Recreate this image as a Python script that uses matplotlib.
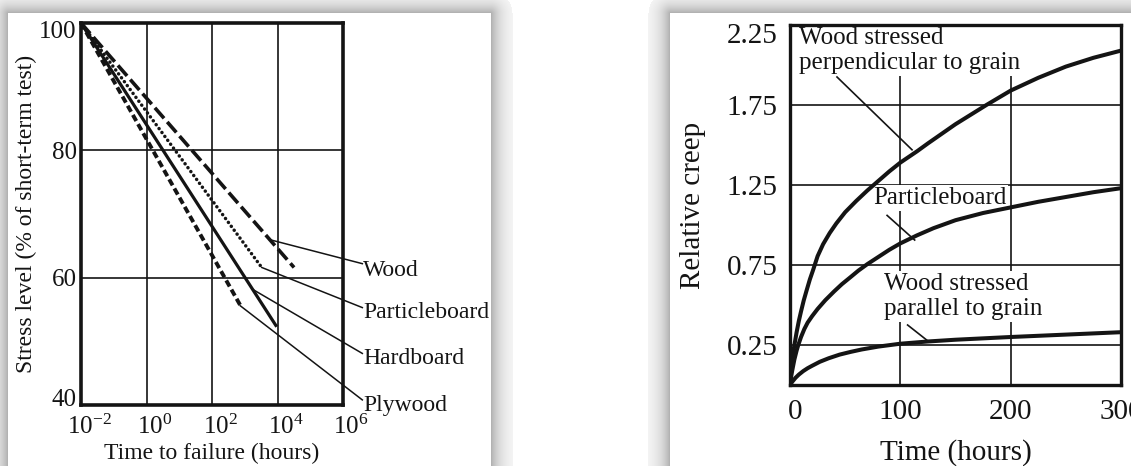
import numpy as np
import matplotlib
matplotlib.use("Agg")
import matplotlib.pyplot as plt
from matplotlib.transforms import ScaledTranslation

plt.rcParams["font.family"] = ["Liberation Serif", "DejaVu Serif"]
plt.rcParams["mathtext.fontset"] = "custom"
plt.rcParams["mathtext.rm"] = "Liberation Serif"
plt.rcParams["mathtext.it"] = "Liberation Serif:italic"
plt.rcParams["lines.scale_dashes"] = False

INK = "#141414"
FS_LEFT = 17
FS_LEFT_TICK = 18
FS_RIGHT = 21
FS_RIGHT_NOTE = 18

# ---- Left panel: stress level vs. time to failure (log time) ----
wood_hours = [1e-2, 3.2e4]
wood_stress = [100, 61.6]
pb_hours = [1e-2, 3.3e3]
pb_stress = [100, 61.6]
hb_hours = [1e-2, 8.9e3]
hb_stress = [100, 52.5]
ply_hours = [1e-2, 7.8e2]
ply_stress = [100, 55.4]

left_names = ["Wood", "Particleboard", "Hardboard", "Plywood"]
# leader line start (on the curve) and end (next to the name)
left_lead_from = [(10**3.74, 66.0), (10**3.52, 61.6), (10**3.23, 58.2), (10**2.86, 55.6)]
left_lead_to_y = [62.2, 55.3, 48.1, 40.8]
left_name_y = [60.2, 53.7, 46.4, 39.1]
left_lead_x = 10**6.59
left_name_x = 10**6.62

left_xticks = [1e-2, 1e0, 1e2, 1e4, 1e6]
left_xticklabels = [r"$\mathregular{10^{-2}}$", r"$\mathregular{10^{0}}$",
                    r"$\mathregular{10^{2}}$", r"$\mathregular{10^{4}}$",
                    r"$\mathregular{10^{6}}$"]
left_yticks = [40, 60, 80, 100]

# ---- Right panel: relative creep vs. time ----
perp_hours = [0, 1, 2, 3, 4, 6, 8, 10, 12.5, 15, 18, 21, 25, 30, 36, 42, 50,
              60, 70, 80, 90, 100, 115, 125, 150, 178, 200, 225, 250, 275, 300]
perp_creep = [0, 0.10, 0.16, 0.21, 0.25, 0.33, 0.40, 0.46, 0.53, 0.59, 0.66,
              0.72, 0.805, 0.88, 0.95, 1.01, 1.08, 1.15, 1.215, 1.275, 1.335,
              1.39, 1.46, 1.51, 1.63, 1.75, 1.84, 1.92, 1.99, 2.045, 2.09]
pbc_hours = [0, 1, 2, 4, 6, 7.5, 10, 13, 16, 20, 25, 32, 40, 47, 55, 62, 70,
             80, 90, 100, 115, 130, 150, 175, 200, 225, 250, 275, 300]
pbc_creep = [0, 0.05, 0.09, 0.16, 0.215, 0.25, 0.30, 0.35, 0.39, 0.43, 0.475,
             0.53, 0.585, 0.63, 0.675, 0.715, 0.755, 0.80, 0.845, 0.885,
             0.935, 0.98, 1.03, 1.075, 1.11, 1.145, 1.175, 1.205, 1.23]
par_hours = [0, 2, 5, 8, 12, 16, 20, 27, 35, 45, 55, 65, 80, 100, 125, 150,
             200, 250, 300]
par_creep = [0, 0.02, 0.045, 0.065, 0.087, 0.105, 0.12, 0.145, 0.167, 0.19,
             0.207, 0.222, 0.24, 0.258, 0.272, 0.283, 0.30, 0.315, 0.33]

right_names = ["Wood stressed\nperpendicular to grain", "Particleboard",
               "Wood stressed\nparallel to grain"]
right_name_pos = [(8.2, 2.235), (75, 1.235), (85, 0.70)]
right_lead = [((42.6, 1.925), (110.6, 1.47)),
              ((88, 1.06), (113, 0.906)),
              ((106.6, 0.375), (125, 0.275))]
right_xticks = [0, 100, 200, 300]
right_yticks = [0.25, 0.75, 1.25, 1.75, 2.25]

W, H = 1131, 466
fig = plt.figure(figsize=(W / 100, H / 100), dpi=100)
fig.patch.set_facecolor("white")

# soft card shadows behind the two panels
yy, xx = np.mgrid[0:H, 0:W].astype(float)


def card_dist(x0, x1, y0):
    dx = np.maximum.reduce([x0 - xx, np.zeros_like(xx), xx - x1])
    dy = np.maximum(y0 - yy, 0)
    return np.hypot(dx, dy)


d = np.minimum(card_dist(8, 490, 13), card_dist(670, 5000, 13))
shade = np.where(d > 0, 1 - 0.30 * np.exp(-(d - 1) / 11.0), 1.0)
shade = np.where(d > 22, 1.0, shade)
bg = np.dstack([shade, shade, shade])
fig.figimage(bg, xo=0, yo=0, origin="upper", zorder=-5)


def nudge(label, dx_px, dy_px):
    label.set_transform(label.get_transform() +
                        ScaledTranslation(dx_px / 100, dy_px / 100,
                                          fig.dpi_scale_trans))


# ---------------- left axes ----------------
ax1 = fig.add_axes([81 / W, 1 - 405 / H, 262 / W, 382 / H])
ax1.set_xscale("log")
ax1.set_xlim(1e-2, 1e6)
ax1.set_ylim(40, 100)
ax1.set_xticks(left_xticks)
ax1.set_xticklabels(left_xticklabels)
ax1.minorticks_off()
ax1.set_yticks(left_yticks)
for v in [1e0, 1e2, 1e4]:
    ax1.axvline(v, color=INK, lw=1.2, zorder=1)
for v in [60, 80]:
    ax1.axhline(v, color=INK, lw=1.2, zorder=1)

ax1.plot(wood_hours, wood_stress, color=INK, lw=2.6, ls=(0, (10, 3.5)),
         dash_capstyle="butt", zorder=3)
ax1.plot(pb_hours, pb_stress, color=INK, lw=2.5, ls=(0, (0.1, 3.4)),
         dash_capstyle="round", zorder=3)
ax1.plot(hb_hours, hb_stress, color=INK, lw=2.3, zorder=3)
ax1.plot(ply_hours, ply_stress, color=INK, lw=2.8, ls=(0, (5, 2.6)),
         dash_capstyle="butt", zorder=3)

for name, p0, ly, ny in zip(left_names, left_lead_from, left_lead_to_y, left_name_y):
    ax1.plot([p0[0], left_lead_x], [p0[1], ly], color=INK, lw=1.1,
             clip_on=False, zorder=3)
    ax1.text(left_name_x, ny, name, fontsize=FS_LEFT, color=INK, ha="left",
             va="baseline", clip_on=False)

ax1.set_xlabel("Time to failure (hours)", fontsize=FS_LEFT, color=INK,
               labelpad=3)
ax1.set_ylabel("Stress level (% of short-term test)", fontsize=FS_LEFT,
               color=INK, labelpad=2)
ax1.tick_params(axis="both", length=0, labelsize=FS_LEFT_TICK, colors=INK)
ax1.tick_params(axis="x", pad=7)
ax1.tick_params(axis="y", pad=3)
for s in ax1.spines.values():
    s.set_linewidth(2.6)
    s.set_color(INK)

for lab in ax1.get_xticklabels():
    nudge(lab, 8, 0)
ylabs = ax1.get_yticklabels()
nudge(ylabs[0], 0, 8)
nudge(ylabs[-1], 0, -6)

# ---------------- right axes ----------------
ax2 = fig.add_axes([790 / W, 1 - 385 / H, 331 / W, 360 / H])
ax2.set_xlim(0, 300)
ax2.set_ylim(0, 2.25)
ax2.set_xticks(right_xticks)
ax2.set_yticks(right_yticks)
ax2.set_yticklabels([f"{v:.2f}" for v in right_yticks])
for v in [100, 200]:
    ax2.axvline(v, color=INK, lw=1.2, zorder=1)
for v in [0.25, 0.75, 1.25, 1.75]:
    ax2.axhline(v, color=INK, lw=1.2, zorder=1)

for hrs, vals in [(perp_hours, perp_creep), (pbc_hours, pbc_creep),
                  (par_hours, par_creep)]:
    ax2.plot(hrs, vals, color=INK, lw=2.9, solid_capstyle="round",
             solid_joinstyle="round", zorder=4)

for name, (tx, ty) in zip(right_names, right_name_pos):
    ax2.text(tx, ty, name, fontsize=FS_RIGHT_NOTE, color=INK, ha="left",
             va="top", linespacing=1.15, zorder=2,
             bbox=dict(facecolor="white", edgecolor="none", pad=1.5))
for (a, b) in right_lead:
    ax2.plot([a[0], b[0]], [a[1], b[1]], color=INK, lw=1.2, zorder=3)

ax2.set_xlabel("Time (hours)", fontsize=FS_RIGHT, color=INK, labelpad=10)
ax2.set_ylabel("Relative creep", fontsize=FS_RIGHT, color=INK, labelpad=15)
ax2.tick_params(axis="both", length=0, labelsize=FS_RIGHT, colors=INK)
ax2.tick_params(axis="x", pad=10)
ax2.tick_params(axis="y", pad=9)
for s in ax2.spines.values():
    s.set_linewidth(2.4)
    s.set_color(INK)
    s.set_zorder(5)

r_ylabs = ax2.get_yticklabels()
nudge(r_ylabs[-1], 0, -8)
nudge(ax2.get_xticklabels()[0], 5, 0)

fig.savefig("out.png", dpi=100, facecolor="white")
